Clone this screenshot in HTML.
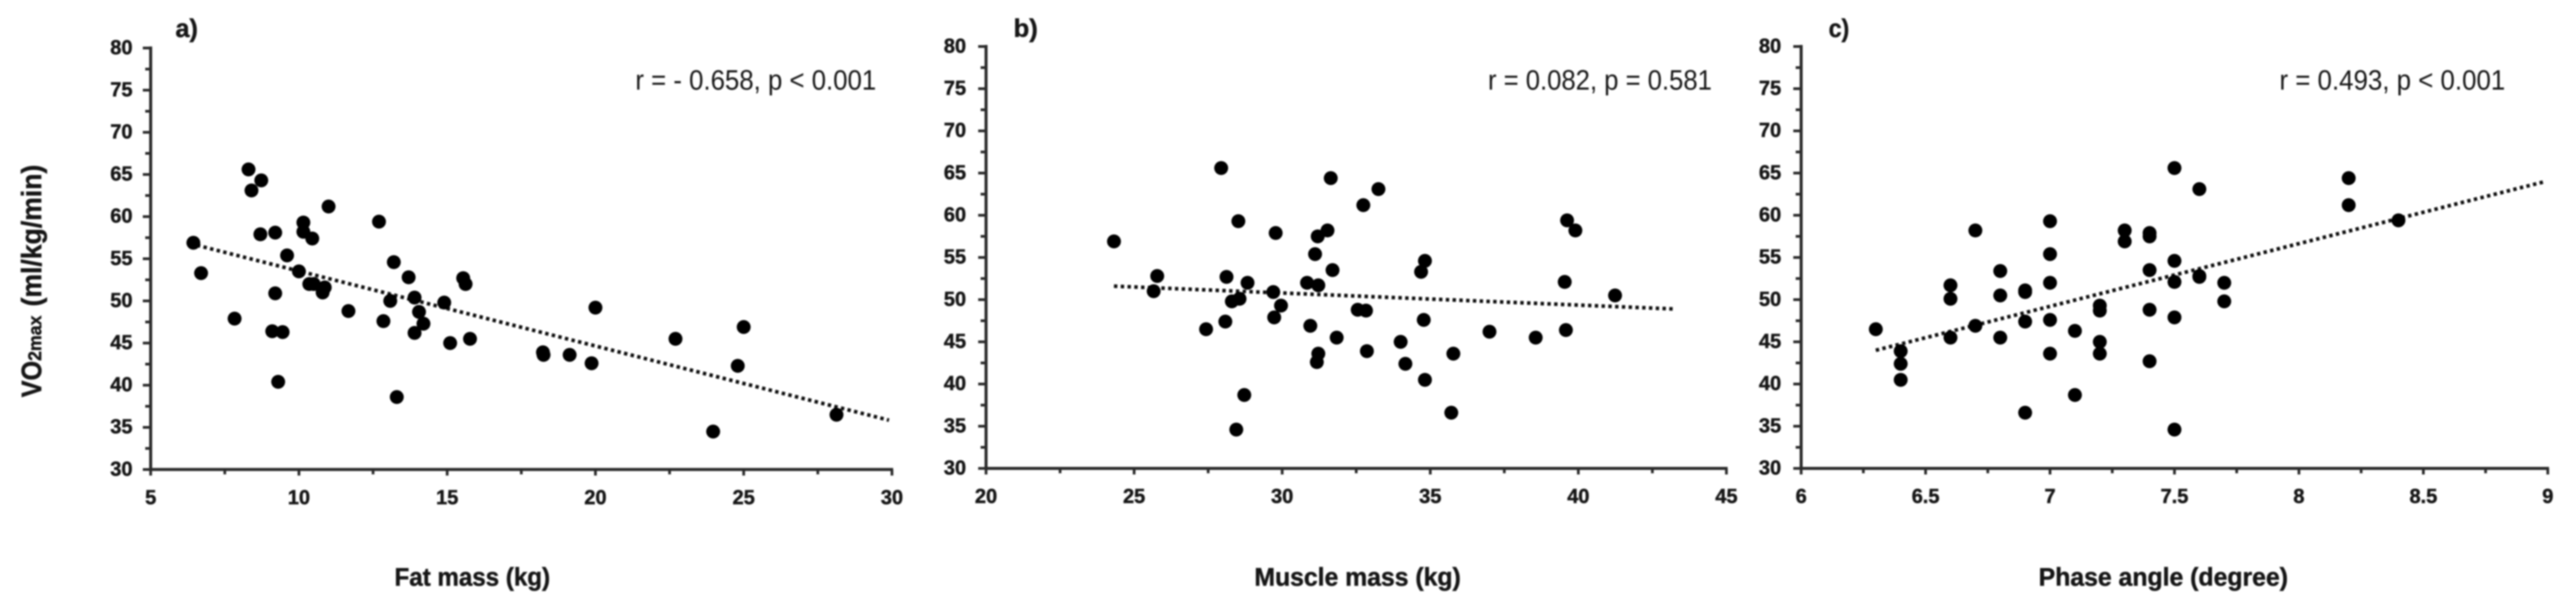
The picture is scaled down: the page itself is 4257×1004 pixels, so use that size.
<!DOCTYPE html>
<html lang="en">
<head>
<meta charset="utf-8">
<title>VO2max scatter plots</title>
<style>
html,body{margin:0;padding:0;background:#fff;width:4257px;height:1004px;overflow:hidden}
svg{display:block}
text{font-family:"Liberation Sans",sans-serif;fill:#141414}
.b{font-weight:700;stroke:#141414;stroke-width:0.7px}
</style>
</head>
<body>
<svg id="chart" xmlns="http://www.w3.org/2000/svg" width="4257" height="1004" viewBox="0 0 4257 1004">
<defs>
<filter id="soft" filterUnits="userSpaceOnUse" x="0" y="0" width="4257" height="1004"><feGaussianBlur stdDeviation="1.3"/></filter>
</defs>
<rect width="4257" height="1004" fill="#fff"/>
<g id="root" filter="url(#soft)">
  <g transform="translate(68,0) rotate(-90)">
    <text class="b" x="-656" y="0" font-size="46" textLength="60" lengthAdjust="spacingAndGlyphs">VO</text>
    <text class="b" x="-596" y="0" font-size="31" textLength="75" lengthAdjust="spacingAndGlyphs">2max</text>
    <text class="b" x="-506" y="0" font-size="46" textLength="234" lengthAdjust="spacingAndGlyphs">(ml/kg/min)</text>
  </g>
  <text class="b" x="290" y="61" font-size="42" textLength="37" lengthAdjust="spacingAndGlyphs">a)</text>
  <text class="b" x="1675" y="61" font-size="42" textLength="40" lengthAdjust="spacingAndGlyphs">b)</text>
  <text class="b" x="3022" y="61" font-size="42" textLength="34" lengthAdjust="spacingAndGlyphs">c)</text>
  <text x="1050" y="148" font-size="46" textLength="398" lengthAdjust="spacingAndGlyphs">r = - 0.658, p &lt; 0.001</text>
  <text x="2459" y="148" font-size="46" textLength="370" lengthAdjust="spacingAndGlyphs">r = 0.082, p = 0.581</text>
  <text x="3767" y="148" font-size="46" textLength="373" lengthAdjust="spacingAndGlyphs">r = 0.493, p &lt; 0.001</text>
  <text class="b" x="652" y="967" font-size="42" textLength="257" lengthAdjust="spacingAndGlyphs">Fat mass (kg)</text>
  <text class="b" x="2073" y="967" font-size="42" textLength="341" lengthAdjust="spacingAndGlyphs">Muscle mass (kg)</text>
  <text class="b" x="3369" y="967" font-size="42" textLength="412" lengthAdjust="spacingAndGlyphs">Phase angle (degree)</text>
</g>
</svg>
<script>
const yTickLabels = [30, 35, 40, 45, 50, 55, 60, 65, 70, 75, 80];

const fatXTickLabels = [5, 10, 15, 20, 25, 30];
const fatMassKg = [6.44, 6.7, 7.83, 8.3, 8.73, 8.4, 8.7, 9.2, 9.6, 10.0, 9.2, 9.1, 9.45, 9.3, 10.15, 10.15, 10.45, 11.0, 10.35, 10.5, 10.8, 10.87, 11.67, 12.7, 12.85, 13.2, 13.08, 13.3, 13.7, 13.9, 14.05, 14.2, 13.9, 14.9, 15.1, 15.54, 15.62, 15.77, 18.23, 18.25, 19.13, 19.87, 20.0, 22.7, 23.97, 24.8, 25.0, 28.13];
const fatVo2 = [56.9, 53.3, 47.9, 65.6, 64.3, 63.1, 57.9, 58.1, 55.4, 53.5, 50.9, 46.4, 46.3, 40.4, 59.3, 58.2, 57.4, 61.2, 52.0, 52.0, 51.0, 51.6, 48.8, 59.4, 47.6, 54.6, 50.0, 38.6, 52.8, 50.4, 48.7, 47.3, 46.2, 49.8, 45.0, 52.7, 52.0, 45.5, 43.9, 43.6, 43.6, 42.6, 49.2, 45.5, 34.5, 42.3, 46.9, 36.5];
const fatTrendX = [6.56, 29.9];
const fatTrendY = [56.6, 35.85];

const muscleXTickLabels = [20, 25, 30, 35, 40, 45];
const muscleMassKg = [24.32, 25.66, 25.78, 27.43, 27.94, 28.12, 28.08, 28.3, 28.56, 28.52, 28.83, 28.72, 28.45, 29.7, 29.78, 29.73, 29.96, 30.84, 30.95, 31.11, 31.22, 31.2, 31.53, 31.64, 31.7, 31.22, 31.17, 31.84, 32.74, 33.25, 32.55, 32.83, 32.86, 34.0, 34.16, 34.69, 34.82, 34.78, 34.82, 35.71, 35.78, 37.0, 38.56, 39.54, 39.62, 39.9, 39.58, 41.24];
const muscleVo2 = [56.9, 51.0, 52.8, 46.5, 65.6, 52.7, 47.4, 49.8, 50.1, 59.3, 52.0, 38.7, 34.6, 50.9, 57.9, 47.9, 49.3, 52.0, 46.9, 55.4, 51.7, 57.5, 58.2, 64.4, 53.5, 43.6, 42.6, 45.5, 61.2, 63.1, 48.8, 48.7, 43.9, 45.0, 42.4, 53.3, 54.6, 47.6, 40.5, 36.6, 43.6, 46.2, 45.5, 52.1, 59.4, 58.2, 46.4, 50.5];
const muscleTrendX = [24.32, 43.2];
const muscleTrendY = [51.6, 48.9];

const phaseXTickLabels = [6, 6.5, 7, 7.5, 8, 8.5, 9];
const phaseAngleDeg = [6.3, 6.4, 6.4, 6.4, 6.6, 6.6, 6.6, 6.7, 6.7, 6.8, 6.8, 6.8, 6.9, 6.9, 6.9, 6.9, 7.0, 7.0, 7.0, 7.0, 7.0, 7.1, 7.1, 7.2, 7.2, 7.2, 7.2, 7.3, 7.3, 7.4, 7.4, 7.4, 7.4, 7.4, 7.5, 7.5, 7.5, 7.5, 7.5, 7.6, 7.6, 7.6, 7.7, 7.7, 8.2, 8.2, 8.4];
const phaseVo2 = [46.5, 43.9, 42.4, 40.5, 51.7, 50.1, 45.5, 58.2, 46.9, 53.4, 50.5, 45.5, 51.1, 50.9, 47.4, 36.6, 59.3, 55.4, 52.0, 47.6, 43.6, 46.3, 38.7, 49.3, 48.7, 45.0, 43.6, 58.2, 56.9, 57.9, 57.5, 53.5, 48.8, 42.7, 65.6, 54.6, 52.1, 47.9, 34.6, 63.1, 52.8, 52.7, 52.0, 49.8, 64.4, 61.2, 59.4];
const phaseTrendX = [6.3, 8.99];
const phaseTrendY = [44.0, 64.0];

const SVG_NS = 'http://www.w3.org/2000/svg';
const root = document.getElementById('root');

function svgEl(tag, parent) {
  const el = document.createElementNS(SVG_NS, tag);
  parent.appendChild(el);
  return el;
}

function line(parent, x1, y1, x2, y2, width) {
  const l = svgEl('line', parent);
  l.setAttribute('x1', x1);
  l.setAttribute('y1', y1);
  l.setAttribute('x2', x2);
  l.setAttribute('y2', y2);
  l.setAttribute('stroke', '#2b2b2b');
  l.setAttribute('stroke-width', width);
  return l;
}

function drawPanel(id, box, xLabels, xs, ys, trendX, trendY) {
  const xMin = xLabels[0];
  const xMax = xLabels[xLabels.length - 1];
  const yMin = yTickLabels[0];
  const yMax = yTickLabels[yTickLabels.length - 1];
  const sx = v => box.left + (v - xMin) / (xMax - xMin) * (box.right - box.left);
  const sy = v => box.bottom - (v - yMin) / (yMax - yMin) * (box.bottom - box.top);

  const g = svgEl('g', root);
  
  

  const yAxis = svgEl('g', g);
  
  
  line(yAxis, box.left, sy(yMax) - 2.5, box.left, box.bottom + 2.5, 5);
  yTickLabels.forEach((t, i) => {
    line(yAxis, box.left - 13, sy(t), box.left, sy(t), 4.5);
    if (i < yTickLabels.length - 1) {
      const m = (t + yTickLabels[i + 1]) / 2;
      line(yAxis, box.left - 9, sy(m), box.left, sy(m), 4.5);
    }
    const label = svgEl('text', yAxis);
    
    
    label.setAttribute('class', 'b');
    label.setAttribute('x', box.left - box.labelGap);
    label.setAttribute('y', sy(t) + 10);
    label.setAttribute('font-size', '33');
    label.setAttribute('text-anchor', 'end');
    label.textContent = t;
  });

  const xAxis = svgEl('g', g);
  
  
  line(xAxis, box.left, box.bottom, box.right + 2, box.bottom, 5);
  xLabels.forEach((t, i) => {
    line(xAxis, sx(t), box.bottom, sx(t), box.bottom + 10, 4.5);
    if (i < xLabels.length - 1) {
      const m = (t + xLabels[i + 1]) / 2;
      line(xAxis, sx(m), box.bottom, sx(m), box.bottom + 8, 4.5);
    }
    const label = svgEl('text', xAxis);
    
    
    label.setAttribute('class', 'b');
    label.setAttribute('x', sx(t));
    label.setAttribute('y', box.bottom + 57);
    label.setAttribute('font-size', '33');
    label.setAttribute('text-anchor', 'middle');
    label.textContent = t;
  });

  const trend = svgEl('line', g);
  
  
  trend.setAttribute('x1', sx(trendX[0]));
  trend.setAttribute('y1', sy(trendY[0]));
  trend.setAttribute('x2', sx(trendX[1]));
  trend.setAttribute('y2', sy(trendY[1]));
  trend.setAttribute('stroke', '#111');
  trend.setAttribute('stroke-width', '6');
  trend.setAttribute('stroke-dasharray', '5.6 5.6');

  xs.forEach((v, i) => {
    const dot = svgEl('circle', g);
    
    
    dot.setAttribute('cx', sx(v));
    dot.setAttribute('cy', sy(ys[i]));
    dot.setAttribute('r', '11.5');
    dot.setAttribute('fill', '#000');
  });
}

drawPanel('fat-mass', {left: 249, right: 1474, top: 79.3, bottom: 775.3, labelGap: 30}, fatXTickLabels, fatMassKg, fatVo2, fatTrendX, fatTrendY);
drawPanel('muscle-mass', {left: 1629.5, right: 2853, top: 76.8, bottom: 773.5, labelGap: 33}, muscleXTickLabels, muscleMassKg, muscleVo2, muscleTrendX, muscleTrendY);
drawPanel('phase-angle', {left: 2976.5, right: 4210.4, top: 76.8, bottom: 773.5, labelGap: 33}, phaseXTickLabels, phaseAngleDeg, phaseVo2, phaseTrendX, phaseTrendY);
</script>
</body>
</html>
